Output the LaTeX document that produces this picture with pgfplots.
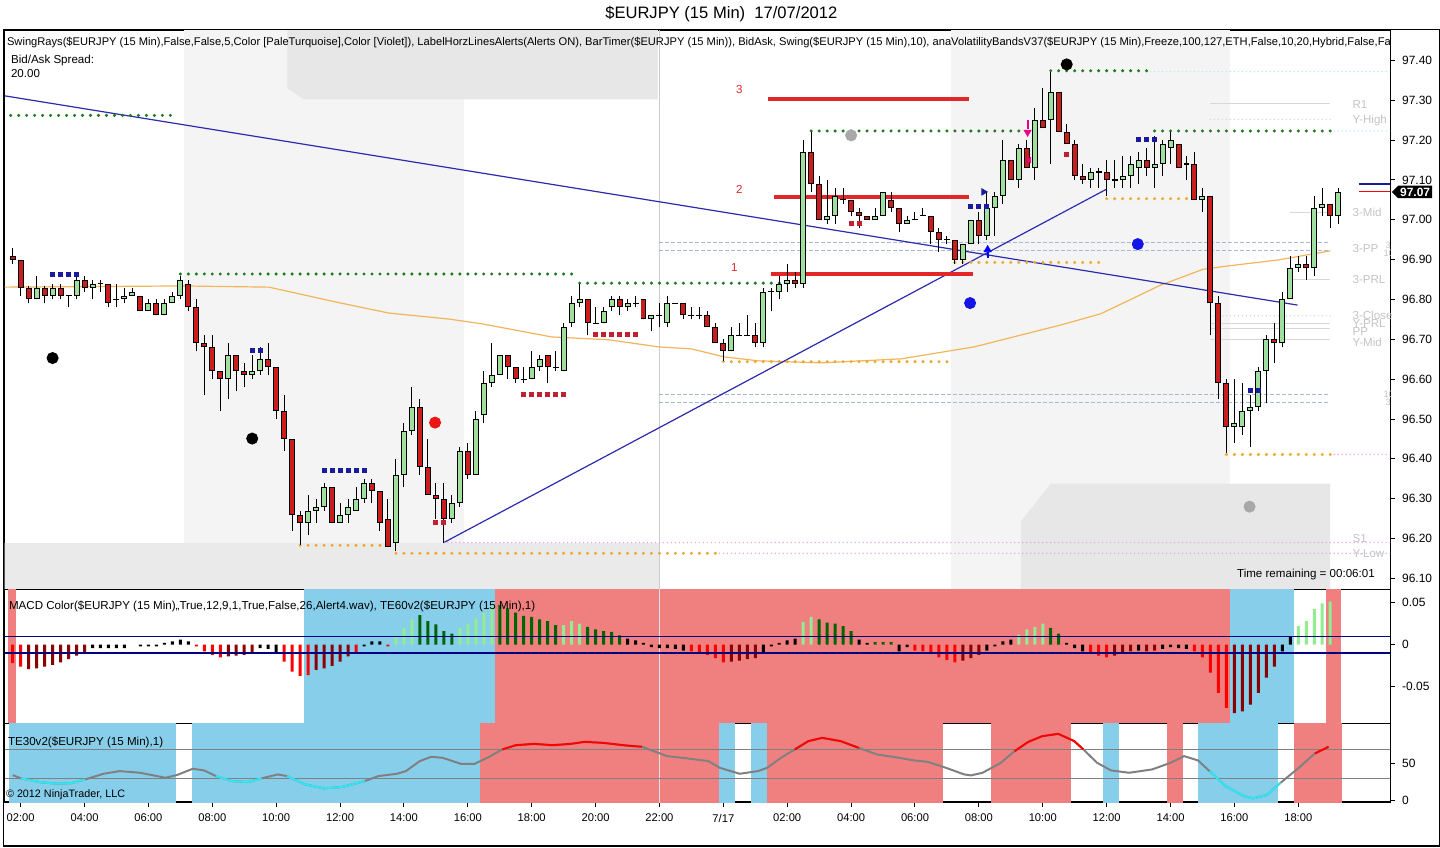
\documentclass[border=0pt]{standalone}
\usepackage{fontspec}
\setmainfont{Liberation Sans}
\usepackage{pgfplots}
\usepackage{pgfplotstable}
\pgfplotsset{compat=1.18}
\usetikzlibrary{shapes.symbols}

\definecolor{upc}{HTML}{9FE09F}
\definecolor{dnc}{HTML}{C81E1E}
\definecolor{sess}{HTML}{F4F4F4}
\definecolor{band}{HTML}{EAEAEA}
\definecolor{wmk}{HTML}{E7E7E7}
\definecolor{dgreen}{HTML}{1E7A1E}
\definecolor{dorange}{HTML}{F0A830}
\definecolor{pturq}{HTML}{AFEEEE}
\definecolor{pviol}{HTML}{E9A8E9}
\definecolor{tline}{HTML}{2B2BB0}
\definecolor{ma}{HTML}{F2B55A}
\definecolor{skyb}{HTML}{87CEEB}
\definecolor{lcor}{HTML}{F08080}
\definecolor{hred}{HTML}{FF0000}
\definecolor{hdred}{HTML}{8B0000}
\definecolor{hlgreen}{HTML}{90EE90}
\definecolor{hdgreen}{HTML}{006400}
\definecolor{tcyan}{HTML}{2CE8F5}
\definecolor{lvl}{HTML}{D8D8D8}
\definecolor{lbl}{HTML}{C4C4C4}
\definecolor{pivb}{HTML}{A8B8D8}
\definecolor{rline}{HTML}{E02828}
\definecolor{sqblue}{HTML}{1A1A9A}
\definecolor{sqred}{HTML}{C0202F}

\newcommand\sm{\fontsize{5.8}{7}\selectfont}

% 15 min candles, i = bar number (0 = 02:00 on 7/16)
\pgfplotstableread{
i o h l c
2 96.80 96.86 96.80 96.83
4 96.81 96.84 96.80 96.83
7 96.81 96.86 96.80 96.85
9 96.83 96.85 96.80 96.84
13 96.80 96.83 96.79 96.81
14 96.81 96.83 96.81 96.82
16 96.77 96.80 96.77 96.79
18 96.76 96.80 96.76 96.79
19 96.79 96.82 96.79 96.81
20 96.81 96.86 96.80 96.85
26 96.60 96.69 96.55 96.66
29 96.61 96.66 96.60 96.62
30 96.62 96.68 96.61 96.65
36 96.24 96.31 96.21 96.27
37 96.27 96.30 96.24 96.28
38 96.28 96.34 96.27 96.33
40 96.24 96.29 96.24 96.26
41 96.26 96.30 96.24 96.28
42 96.27 96.33 96.27 96.30
43 96.30 96.35 96.29 96.34
47 96.19 96.40 96.17 96.36
48 96.36 96.49 96.33 96.47
49 96.47 96.58 96.46 96.53
54 96.25 96.31 96.24 96.29
55 96.29 96.43 96.28 96.42
57 96.36 96.52 96.36 96.50
58 96.51 96.62 96.49 96.59
59 96.59 96.69 96.58 96.61
60 96.61 96.66 96.61 96.66
64 96.60 96.67 96.60 96.63
65 96.63 96.66 96.62 96.65
68 96.62 96.74 96.62 96.73
69 96.74 96.81 96.73 96.79
70 96.79 96.84 96.78 96.80
73 96.74 96.78 96.74 96.77
74 96.78 96.81 96.77 96.80
76 96.78 96.80 96.77 96.79
79 96.75 96.76 96.72 96.76
81 96.74 96.81 96.73 96.79
89 96.67 96.73 96.67 96.71
93 96.69 96.83 96.68 96.82
95 96.82 96.86 96.80 96.84
96 96.84 96.89 96.82 96.85
98 96.84 97.20 96.83 97.17
101 97.00 97.10 96.99 97.01
102 97.01 97.08 96.99 97.06
107 97.00 97.03 97.00 97.01
108 97.01 97.07 97.01 97.07
111 96.99 97.01 96.99 97.00
118 96.90 96.94 96.89 96.94
119 96.94 97.00 96.94 97.00
121 96.96 97.07 96.95 97.03
122 97.03 97.07 96.96 97.06
123 97.06 97.20 97.04 97.15
125 97.10 97.19 97.08 97.18
127 97.13 97.28 97.10 97.25
129 97.25 97.37 97.14 97.32
134 97.10 97.13 97.08 97.12
138 97.10 97.16 97.08 97.11
139 97.11 97.16 97.08 97.14
140 97.13 97.17 97.09 97.15
142 97.13 97.21 97.08 97.14
143 97.14 97.20 97.11 97.19
144 97.18 97.22 97.14 97.20
148 97.05 97.08 97.02 97.06
152 96.48 96.60 96.44 96.49
153 96.48 96.59 96.46 96.52
154 96.52 96.56 96.43 96.53
155 96.53 96.63 96.52 96.62
156 96.62 96.71 96.54 96.70
158 96.69 96.82 96.68 96.80
159 96.80 96.91 96.80 96.88
160 96.88 96.91 96.87 96.89
162 96.88 97.06 96.86 97.03
163 97.03 97.08 97.01 97.04
165 97.01 97.08 96.99 97.07
}\upbars

\pgfplotstableread{
i o h l c
-1 96.91 96.93 96.89 96.90
0 96.90 96.90 96.81 96.83
1 96.83 96.835 96.79 96.80
3 96.83 96.835 96.79 96.81
5 96.83 96.84 96.80 96.81
8 96.85 96.86 96.82 96.83
11 96.84 96.84 96.78 96.79
15 96.81 96.81 96.77 96.77
17 96.79 96.80 96.76 96.76
21 96.84 96.85 96.77 96.78
22 96.78 96.80 96.67 96.69
23 96.69 96.71 96.56 96.68
24 96.68 96.71 96.60 96.62
25 96.62 96.62 96.52 96.60
27 96.66 96.66 96.57 96.62
28 96.62 96.64 96.58 96.61
31 96.65 96.69 96.61 96.63
32 96.63 96.63 96.50 96.52
33 96.52 96.56 96.42 96.45
34 96.45 96.45 96.22 96.26
35 96.26 96.27 96.185 96.24
39 96.33 96.33 96.24 96.24
44 96.34 96.35 96.29 96.32
45 96.32 96.32 96.22 96.24
46 96.25 96.30 96.18 96.18
50 96.53 96.55 96.36 96.38
51 96.38 96.45 96.31 96.31
52 96.31 96.34 96.25 96.30
53 96.30 96.34 96.19 96.25
56 96.42 96.44 96.35 96.36
61 96.66 96.66 96.60 96.63
62 96.63 96.63 96.59 96.60
66 96.66 96.66 96.59 96.63
71 96.80 96.80 96.71 96.74
75 96.80 96.81 96.76 96.78
78 96.80 96.80 96.75 96.75
83 96.79 96.79 96.75 96.76
86 96.76 96.77 96.73 96.73
87 96.73 96.74 96.69 96.69
88 96.69 96.70 96.645 96.67
92 96.71 96.74 96.68 96.69
97 96.85 96.87 96.83 96.84
99 97.17 97.22 97.07 97.09
100 97.09 97.11 97.00 97.00
104 97.05 97.05 97.01 97.02
105 97.02 97.03 96.98 97.01
106 97.01 97.01 97.00 97.00
109 97.05 97.07 97.02 97.03
110 97.03 97.03 96.97 96.99
114 97.01 97.01 96.94 96.97
115 96.97 96.98 96.92 96.95
117 96.95 96.95 96.89 96.90
120 97.00 97.02 96.94 96.96
124 97.15 97.15 97.10 97.10
126 97.18 97.20 97.13 97.13
128 97.25 97.33 97.23 97.23
130 97.32 97.32 97.22 97.22
131 97.22 97.24 97.19 97.19
132 97.19 97.20 97.10 97.11
133 97.11 97.14 97.09 97.10
136 97.12 97.15 97.06 97.10
141 97.15 97.18 97.11 97.13
145 97.19 97.19 97.13 97.13
147 97.14 97.17 97.05 97.05
149 97.06 97.06 96.71 96.79
150 96.79 96.81 96.55 96.59
151 96.59 96.60 96.415 96.48
157 96.70 96.74 96.64 96.69
161 96.89 96.91 96.85 96.88
164 97.04 97.04 96.98 97.01
}\dnbars

\pgfplotstableread{
i p h l
6 96.81 96.81 96.78
10 96.84 96.85 96.82
12 96.80 96.84 96.78
63 96.60 96.63 96.59
67 96.63 96.67 96.62
72 96.74 96.78 96.74
77 96.79 96.81 96.78
80 96.76 96.79 96.73
82 96.79 96.79 96.79
84 96.76 96.78 96.75
85 96.76 96.78 96.75
90 96.71 96.74 96.71
91 96.71 96.76 96.71
94 96.82 96.83 96.77
103 97.05 97.08 97.04
112 97.00 97.02 97.00
113 97.01 97.03 97.01
116 96.95 96.96 96.94
135 97.12 97.13 97.08
137 97.10 97.15 97.08
146 97.14 97.16 97.10
}\dojis

\pgfplotstableread{
i v
-0.99 34.4
0.05 29.8
2.34 24.8
4.63 22.5
6.36 23.4
8.08 28.4
10.38 36.2
12.38 39.9
14.96 37.6
18.13 30.7
19.56 34.4
21.56 43.1
23.0 40.8
24.44 33.0
26.45 26.1
28.45 24.8
30.18 29.8
32.19 35.3
33.34 33.0
35.63 21.6
37.93 16.1
40.23 17.9
43.09 26.1
44.81 33.0
47.11 36.2
48.25 39.9
49.98 53.6
51.41 59.6
52.85 58.2
55.13 49.9
56.86 49.9
58.59 59.1
60.31 69.7
62.03 75.6
64.33 77.4
66.63 75.6
68.91 77.4
70.63 80.2
72.94 78.8
75.8 75.2
77.81 73.4
80.96 60.5
83.84 56.9
86.13 53.6
87.56 44.4
90.05 36.2
92.34 39.9
93.5 44.4
95.21 58.2
96.94 69.7
98.65 81.2
100.38 85.7
102.68 81.2
104.96 71.9
107.25 62.8
109.56 59.1
111.85 54.6
113.58 52.7
115.88 44.4
118.16 35.3
119.03 34.0
120.46 37.6
122.75 51.3
124.48 67.4
126.2 80.2
127.93 88.0
129.94 91.2
131.94 81.2
133.09 69.7
134.81 51.3
136.54 40.8
138.83 37.6
141.7 42.2
144.0 51.3
145.71 60.5
147.44 54.6
148.88 39.9
150.88 19.3
153.18 5.5
154.33 2.3
156.05 6.9
157.78 23.8
160.06 44.4
162.08 64.2
163.8 73.4
}\tethirty

\pgfplotsset{
  panel/.style={
    scale only axis, width=694pt, anchor=south west,
    xmin=-2, xmax=171.5, xtick=\empty,
    axis line style={black, line width=0.6pt},
    ytick pos=right, yticklabel pos=right,
    tick align=outside, major tick length=2.5pt,
    tick style={black, line width=0.5pt},
    tick label style={font=\fontsize{6}{7}\selectfont},
    scaled y ticks=false,
    /pgf/number format/assume math mode=true,
  },
  bg/.style={fill=#1, draw=none, forget plot},
  swing/.style={#1, line width=1.7pt, line cap=round, dash pattern=on 0pt off 4pt},
  fine/.style={#1, line width=0.8pt, line cap=round, dash pattern=on 0pt off 2pt},
  hist/.style={ybar, bar width=1.5pt, bar shift=0pt, fill=#1, draw=none},
  ebar/.style={only marks, mark=*, mark size=0pt, mark options={draw=none, fill=none},
    error bars/.cd, y dir=plus, y explicit,
    error mark=none, error bar style={#1, line cap=butt}},
}

\begin{document}
\begin{tikzpicture}
\fill[white] (0,0) rectangle (720pt,423.5pt);

% ---------------- price panel ----------------
\begin{axis}[panel, at={(1pt,129.5pt)}, height=280pt,
  ymin=96.0723, ymax=97.4752,
  ytick={96.1,96.2,96.3,96.4,96.5,96.6,96.7,96.8,96.9,97.0,97.1,97.2,97.3,97.4},
  yticklabel={\pgfmathprintnumber[fixed,fixed zerofill,precision=2,assume math mode=true]{\tick}},
]
% session shading and watermark shapes
\addplot[bg=sess] coordinates {(20.5,96) (55.5,96) (55.5,97.6) (20.5,97.6)} -- cycle;
\addplot[bg=sess] coordinates {(116.5,96) (151.5,96) (151.5,97.6) (116.5,97.6)} -- cycle;
\addplot[bg=band] coordinates {(-3,96) (80,96) (80,96.188) (-3,96.188)} -- cycle;
\addplot[bg=wmk] coordinates {(33.4,97.6) (33.4,97.33) (35.5,97.302) (79.8,97.302) (79.8,97.6)} -- cycle;
\addplot[bg=wmk] coordinates {(125.25,96) (125.25,96.243) (129,96.338) (164,96.338) (164,96)} -- cycle;
\addplot[gray!40, line width=0.5pt] coordinates {(80,96) (80,97.6)};

% pivot levels on the right
\addplot[lvl, line width=0.5pt] coordinates {(149,97.292) (164,97.292)};
\addplot[fine=lvl] coordinates {(149,97.252) (164,97.252)};
\addplot[lvl, line width=0.5pt] coordinates {(159,97.019) (164,97.019)};
\addplot[lvl, line width=0.5pt] coordinates {(159,96.851) (164,96.851)};
\addplot[fine=lvl] coordinates {(149,96.759) (164,96.759)};
\addplot[lvl, line width=0.5pt] coordinates {(149,96.739) (164,96.739)};
\addplot[lvl, line width=0.5pt] coordinates {(149,96.726) (164,96.726)};
\addplot[lvl, line width=0.5pt] coordinates {(149,96.699) (164,96.699)};
\addplot[pivb, line width=0.5pt, dash pattern=on 2pt off 1pt] coordinates {(80,96.942) (164,96.942)};
\addplot[pivb, line width=0.5pt, dash pattern=on 2pt off 1pt] coordinates {(80,96.922) (164,96.922)};
\addplot[pivb, line width=0.5pt, dash pattern=on 2pt off 1pt] coordinates {(80,96.561) (164,96.561)};
\addplot[pivb, line width=0.5pt, dash pattern=on 2pt off 1pt] coordinates {(80,96.541) (164,96.541)};

% moving average
\addplot[ma, line width=0.6pt] coordinates {
(-2,96.831) (20.25,96.834) (31.1,96.831) (39.4,96.794) (46.1,96.766) (53.6,96.751)
(57.75,96.739) (66.5,96.706) (73.6,96.699) (79.9,96.681) (84,96.676) (88.1,96.656)
(92.4,96.646) (100.25,96.641) (110.25,96.651) (119.4,96.681) (130.25,96.736)
(135.25,96.764) (142.75,96.836) (148.1,96.876) (151.1,96.884) (157.4,96.899) (164,96.922)};

% trend lines
\addplot[tline, line width=0.6pt] coordinates {(-2.25,97.312) (159.9,96.786)};
\addplot[tline, line width=0.6pt] coordinates {(53,96.19) (136,97.077)};

% swing rays
\addplot[fine=pviol] coordinates {(53,96.19) (171.5,96.19)};
\addplot[fine=pviol] coordinates {(87,96.163) (171.5,96.163)};
\addplot[fine=pviol] coordinates {(164,96.411) (171.5,96.411)};
\addplot[fine=pturq] coordinates {(141,97.372) (171.5,97.372)};
\addplot[fine=pturq] coordinates {(164,97.223) (171.5,97.223)};
\addplot[swing=dgreen] coordinates {(-1.25,97.262) (19.25,97.262)};
\addplot[swing=dgreen] coordinates {(20,96.864) (69.5,96.864)};
\addplot[swing=dgreen] coordinates {(70,96.841) (96.5,96.841)};
\addplot[swing=dgreen] coordinates {(99,97.223) (125.5,97.223)};
\addplot[swing=dgreen] coordinates {(129,97.374) (141,97.374)};
\addplot[swing=dgreen] coordinates {(142,97.223) (164,97.223)};
\addplot[swing=dorange] coordinates {(35,96.183) (46,96.183)};
\addplot[swing=dorange] coordinates {(47,96.163) (87,96.163)};
\addplot[swing=dorange] coordinates {(88,96.644) (116,96.644)};
\addplot[swing=dorange] coordinates {(117,96.893) (135,96.893)};
\addplot[swing=dorange] coordinates {(136,97.053) (148,97.053)};
\addplot[swing=dorange] coordinates {(151,96.411) (164,96.411)};

% horizontal alert lines
\addplot[rline, line width=2pt] coordinates {(93.6,97.302) (118.75,97.302)};
\addplot[rline, line width=2pt] coordinates {(94.4,97.057) (118.75,97.057)};
\addplot[rline, line width=2pt] coordinates {(94,96.864) (119.25,96.864)};

% candles
\addplot[ebar={black, line width=0.5pt}] table[x=i, y=l, y error plus expr=\thisrow{h}-\thisrow{l}] \upbars;
\addplot[ebar={black, line width=0.5pt}] table[x=i, y=l, y error plus expr=\thisrow{h}-\thisrow{l}] \dnbars;
\addplot[ebar={black, line width=0.5pt}] table[x=i, y=l, y error plus expr=\thisrow{h}-\thisrow{l}] \dojis;
\addplot[ebar={black, line width=3pt}] table[x=i, y=o, y error plus expr=\thisrow{c}-\thisrow{o}] \upbars;
\addplot[ebar={upc, line width=2pt}] table[x=i, y expr=\thisrow{o}+0.0025, y error plus expr=\thisrow{c}-\thisrow{o}-0.005] \upbars;
\addplot[ebar={black, line width=3pt}] table[x=i, y=c, y error plus expr=\thisrow{o}-\thisrow{c}] \dnbars;
\addplot[ebar={dnc, line width=2pt}] table[x=i, y expr=\thisrow{c}+0.0025, y error plus expr=\thisrow{o}-\thisrow{c}-0.005] \dnbars;
\addplot[only marks, mark=-, mark size=1.5pt, mark options={black, line width=0.6pt}] table[x=i, y=p] \dojis;

% small squares
\addplot[only marks, mark=square*, mark size=1pt, sqblue] coordinates {
(4,96.862) (5,96.862) (6,96.862) (7,96.862) (29,96.672) (30,96.672)
(38,96.371) (39,96.371) (40,96.371) (41,96.371) (42,96.371) (43,96.371)
(119,97.033) (120,97.033) (121,97.033) (140,97.203) (141,97.203) (142,97.203)
(154,96.572) (155,96.572)};
\addplot[only marks, mark=square*, mark size=1pt, sqred] coordinates {
(52,96.241) (53,96.241) (63,96.562) (64,96.562) (65,96.562) (66,96.562) (67,96.562) (68,96.562)
(72,96.712) (73,96.712) (74,96.712) (75,96.712) (76,96.712) (77,96.712)
(104,96.992) (105,96.992) (131,97.163)};

% arrows
\addplot[only marks, mark=triangle*, mark size=2pt, blue] coordinates {(121.1,96.925)};
\addplot[blue, line width=1pt] coordinates {(121.1,96.905) (121.1,96.92)};
\addplot[only marks, mark=triangle*, mark size=1.8pt, mark options={rotate=-90}, sqblue] coordinates {(120.6,97.07)};
\addplot[only marks, mark=triangle*, mark size=2pt, mark options={rotate=180}, magenta] coordinates {(126.1,97.22)};
\addplot[magenta, line width=1pt] coordinates {(126.1,97.228) (126.1,97.25)};
\addplot[only marks, mark=triangle*, mark size=1.5pt, mark options={rotate=90}, magenta] coordinates {(126.3,97.15)};

% swing dots
\addplot[only marks, mark=*, mark size=2.8pt, black] coordinates {(4,96.653) (29,96.451) (131,97.39)};
\addplot[only marks, mark=*, mark size=2.8pt, color={rgb,255:red,236;green,20;blue,20}] coordinates {(51.9,96.491)};
\addplot[only marks, mark=*, mark size=2.8pt, color={rgb,255:red,168;green,168;blue,168}] coordinates {(104,97.212) (153.9,96.28)};
\addplot[only marks, mark=*, mark size=2.8pt, color={rgb,255:red,21;green,21;blue,232}] coordinates {(118.9,96.791) (139.9,96.939)};

% last price markers
\addplot[sqblue, line width=0.7pt] coordinates {(167.6,97.09) (171.5,97.09)};
\addplot[hred, line width=0.7pt] coordinates {(167.6,97.071) (171.5,97.071)};
\coordinate (tag) at (axis cs:171.5,97.07);
\end{axis}

\node[signal, signal to=west, fill=black, text=white, font=\bfseries\fontsize{6}{7}\selectfont,
  inner sep=1pt, anchor=west] at ([xshift=0.6pt]tag) {97.07};

% ---------------- MACD panel ----------------
\begin{axis}[panel, at={(1pt,62.25pt)}, height=67.25pt,
  ymin=-0.0936, ymax=0.0654,
  ytick={-0.05,0,0.05}, yticklabels={-0.05,0,0.05},
]
\addplot[bg=lcor] coordinates {(-1.6,-1) (-0.6,-1) (-0.6,1) (-1.6,1)} -- cycle;
\addplot[bg=skyb] coordinates {(35.5,-1) (59.4,-1) (59.4,1) (35.5,1)} -- cycle;
\addplot[bg=lcor] coordinates {(59.4,-1) (151.4,-1) (151.4,1) (59.4,1)} -- cycle;
\addplot[bg=skyb] coordinates {(151.4,-1) (159.5,-1) (159.5,1) (151.4,1)} -- cycle;
\addplot[bg=lcor] coordinates {(163.5,-1) (165.4,-1) (165.4,1) (163.5,1)} -- cycle;
\addplot[white!80!gray, line width=0.5pt] coordinates {(80,-1) (80,1)};

\addplot[hist=hred] coordinates {(-1,-0.022) (0,-0.026) (22,-0.002) (23,-0.008) (24,-0.012) (25,-0.015)
 (33,-0.020) (34,-0.032) (35,-0.037) (36,-0.036) (42,-0.010) (46,-0.002) (84,-0.008) (85,-0.010)
 (86,-0.012) (87,-0.016) (88,-0.021) (112,-0.007) (113,-0.008) (114,-0.011) (115,-0.015) (116,-0.018)
 (117,-0.021) (134,-0.010) (135,-0.013) (136,-0.015) (147,-0.008) (148,-0.015) (149,-0.033)
 (150,-0.057) (151,-0.075)};
\addplot[hist=hdred] coordinates {(1,-0.029) (2,-0.028) (3,-0.026) (4,-0.024) (5,-0.021) (6,-0.017)
 (7,-0.013) (8,-0.009) (26,-0.014) (27,-0.013) (28,-0.012) (29,-0.010) (37,-0.030) (38,-0.028)
 (39,-0.025) (40,-0.020) (41,-0.014) (89,-0.020) (90,-0.019) (91,-0.017) (92,-0.016) (118,-0.019)
 (119,-0.016) (120,-0.012) (137,-0.013) (138,-0.010) (139,-0.008) (141,-0.008) (142,-0.007)
 (152,-0.081) (153,-0.079) (154,-0.071) (155,-0.057) (156,-0.039) (157,-0.026)};
\addplot[hist=black] coordinates {(9,-0.004) (10,-0.004) (11,-0.004) (12,-0.004) (13,-0.004)
 (15,-0.002) (16,-0.002) (17,-0.002) (18,0.002) (19,0.004) (20,0.006) (21,0.004) (30,-0.004)
 (31,-0.005) (32,-0.009) (43,-0.002) (44,0.004) (45,0.004) (76,0.007) (77,0.005) (78,0.002)
 (79,-0.003) (80,-0.004) (81,-0.004) (82,-0.005) (83,-0.007) (93,-0.009) (94,-0.002) (95,0.002)
 (96,0.005) (97,0.007) (105,0.006) (106,0.002) (110,-0.008) (111,-0.003) (121,-0.007) (122,-0.002)
 (123,0.004) (124,0.006) (131,0.002) (132,-0.004) (133,-0.008) (140,-0.007) (143,-0.005)
 (144,-0.003) (145,-0.004) (146,-0.005) (158,-0.008) (159,0.010)};
\addplot[hist=hlgreen] coordinates {(47,0.010) (48,0.020) (49,0.030) (55,0.020) (56,0.024) (57,0.031)
 (58,0.038) (59,0.045) (68,0.023) (69,0.028) (70,0.025) (98,0.027) (99,0.033) (125,0.012)
 (126,0.018) (127,0.021) (128,0.025) (160,0.022) (161,0.028) (162,0.042) (163,0.049) (164,0.051)};
\addplot[hist=hdgreen] coordinates {(50,0.035) (51,0.028) (52,0.024) (53,0.016) (54,0.013) (60,0.047)
 (61,0.043) (62,0.038) (63,0.034) (64,0.033) (65,0.030) (66,0.028) (67,0.023) (71,0.021) (72,0.018)
 (73,0.016) (74,0.015) (75,0.011) (100,0.030) (101,0.026) (102,0.025) (103,0.022) (104,0.016)
 (107,0.003) (108,0.003) (109,0.003) (129,0.020) (130,0.013)};

\addplot[color={rgb,255:red,0;green,0;blue,128}, line width=0.6pt] coordinates {(-2,0.01) (171.5,0.01)};
\addplot[color={rgb,255:red,0;green,0;blue,128}, line width=0.6pt] coordinates {(-2,-0.01) (171.5,-0.01)};
\end{axis}

% ---------------- TE30 panel ----------------
\begin{axis}[panel, at={(1pt,23pt)}, height=39.25pt,
  ymin=-2.75, ymax=105.2,
  ytick={0,50}, yticklabels={0,50},
  xtick={0,8,...,160},
  xticklabels={02:00,04:00,06:00,08:00,10:00,12:00,14:00,16:00,18:00,20:00,22:00,7/17,02:00,04:00,06:00,08:00,10:00,12:00,14:00,16:00,18:00},
  xtick pos=bottom, xticklabel pos=bottom,
  xticklabel style={font=\fontsize{5.6}{7}\selectfont},
]
\addplot[bg=skyb] coordinates {(-1.5,-10) (19.5,-10) (19.5,110) (-1.5,110)} -- cycle;
\addplot[bg=skyb] coordinates {(21.5,-10) (57.5,-10) (57.5,110) (21.5,110)} -- cycle;
\addplot[bg=lcor] coordinates {(57.5,-10) (87.5,-10) (87.5,110) (57.5,110)} -- cycle;
\addplot[bg=skyb] coordinates {(87.5,-10) (89.5,-10) (89.5,110) (87.5,110)} -- cycle;
\addplot[bg=skyb] coordinates {(91.5,-10) (93.5,-10) (93.5,110) (91.5,110)} -- cycle;
\addplot[bg=lcor] coordinates {(93.5,-10) (115.5,-10) (115.5,110) (93.5,110)} -- cycle;
\addplot[bg=lcor] coordinates {(121.5,-10) (131.5,-10) (131.5,110) (121.5,110)} -- cycle;
\addplot[bg=skyb] coordinates {(135.5,-10) (137.5,-10) (137.5,110) (135.5,110)} -- cycle;
\addplot[bg=lcor] coordinates {(143.5,-10) (145.5,-10) (145.5,110) (143.5,110)} -- cycle;
\addplot[bg=skyb] coordinates {(147.5,-10) (157.5,-10) (157.5,110) (147.5,110)} -- cycle;
\addplot[bg=lcor] coordinates {(159.5,-10) (165.5,-10) (165.5,110) (159.5,110)} -- cycle;
\addplot[white!80!gray, line width=0.5pt] coordinates {(80,-10) (80,110)};
\addplot[gray, line width=0.5pt] coordinates {(-2,70) (171.5,70)};
\addplot[gray, line width=0.5pt] coordinates {(-2,30) (171.5,30)};

\addplot[color={rgb,255:red,128;green,128;blue,128}, line width=1pt] table[x=i, y=v] \tethirty;
\addplot[tcyan, line width=1pt] coordinates {(0.05,29.8) (2.34,24.8) (4.63,22.5) (6.36,23.4) (8.08,28.4)};
\addplot[tcyan, line width=1pt] coordinates {(24.44,33.0) (26.45,26.1) (28.45,24.8) (30.18,29.8)};
\addplot[tcyan, line width=1pt] coordinates {(33.34,33.0) (35.63,21.6) (37.93,16.1) (40.23,17.9) (43.09,26.1)};
\addplot[tcyan, line width=1pt] coordinates {(148.88,39.9) (150.88,19.3) (153.18,5.5) (154.33,2.3) (156.05,6.9) (157.78,23.8)};
\addplot[hred, line width=1pt] coordinates {(60.31,69.7) (62.03,75.6) (64.33,77.4) (66.63,75.6) (68.91,77.4) (70.63,80.2) (72.94,78.8) (75.8,75.2) (77.81,73.4)};
\addplot[hred, line width=1pt] coordinates {(96.94,69.7) (98.65,81.2) (100.38,85.7) (102.68,81.2) (104.96,71.9)};
\addplot[hred, line width=1pt] coordinates {(124.48,67.4) (126.2,80.2) (127.93,88.0) (129.94,91.2) (131.94,81.2) (133.09,69.7)};
\addplot[hred, line width=1pt] coordinates {(162.08,64.2) (163.8,73.4)};
\end{axis}

% ---------------- texts ----------------
\node[font=\fontsize{8.3}{10}\selectfont] at (360pt,417.5pt) {\$EURJPY (15 Min)\ \ 17/07/2012};
\begin{scope}
\clip (1pt,0pt) rectangle (695pt,423.5pt);
\node[anchor=west, inner sep=0pt, font=\fontsize{5.58}{7}\selectfont] at (2pt,403.5pt)
 {SwingRays(\$EURJPY (15 Min),False,False,5,Color [PaleTurquoise],Color [Violet]), LabelHorzLinesAlerts(Alerts ON), BarTimer(\$EURJPY (15 Min)), BidAsk, Swing(\$EURJPY (15 Min),10), anaVolatilityBandsV37(\$EURJPY (15 Min),Freeze,100,127,ETH,False,10,20,Hybrid,False,False};
\node[anchor=west, inner sep=0pt, font=\fontsize{4.6}{5}\selectfont, text=lbl] at (692.5pt,302pt) {3};
\node[anchor=west, inner sep=0pt, font=\fontsize{4.6}{5}\selectfont, text=lbl] at (691.5pt,298pt) {10};
\node[anchor=west, inner sep=0pt, font=\fontsize{4.6}{5}\selectfont, text=lbl] at (691.5pt,227pt) {10};
\node[anchor=west, inner sep=0pt, font=\fontsize{4.6}{5}\selectfont, text=lbl] at (692.5pt,223pt) {3};
\end{scope}
\node[anchor=west, inner sep=0pt, font=\sm] at (4pt,394.5pt) {Bid/Ask Spread:};
\node[anchor=west, inner sep=0pt, font=\sm] at (4pt,388pt) {20.00};
\node[anchor=east, inner sep=0pt, font=\sm] at (687.5pt,137pt) {Time remaining = 00:06:01};
\node[inner sep=0pt, font=\sm, text=rline] at (369pt,380pt) {3};
\node[inner sep=0pt, font=\sm, text=rline] at (369pt,330pt) {2};
\node[inner sep=0pt, font=\sm, text=rline] at (366.5pt,291pt) {1};
\begin{scope}[every node/.style={anchor=west, inner sep=0pt, font=\sm, text=lbl}]
\node at (676pt,372.5pt) {R1};
\node at (676pt,364.5pt) {Y-High};
\node at (676pt,318.5pt) {3-Mid};
\node at (676pt,300.5pt) {3-PP};
\node at (676pt,284.5pt) {3-PRL};
\node at (676pt,267pt) {3-Close};
\node at (676pt,262.5pt) {Y-PRL};
\node at (676pt,258.5pt) {PP};
\node at (676pt,253.5pt) {Y-Mid};
\node at (676pt,155pt) {S1};
\node at (676pt,147.5pt) {Y-Low};
\end{scope}
\node[anchor=west, inner sep=0pt, font=\sm] at (3pt,121pt)
 {MACD Color(\$EURJPY (15 Min),,True,12,9,1,True,False,26,Alert4.wav), TE60v2(\$EURJPY (15 Min),1)};
\node[anchor=west, inner sep=0pt, font=\sm] at (2.5pt,53pt) {TE30v2(\$EURJPY (15 Min),1)};
\node[anchor=west, inner sep=0pt, font=\fontsize{5.4}{7}\selectfont] at (1.5pt,26.5pt) {© 2012 NinjaTrader, LLC};
\draw[black, line width=0.6pt] (0.3pt,1pt) rectangle (719.7pt,410pt);
\end{tikzpicture}
\end{document}
